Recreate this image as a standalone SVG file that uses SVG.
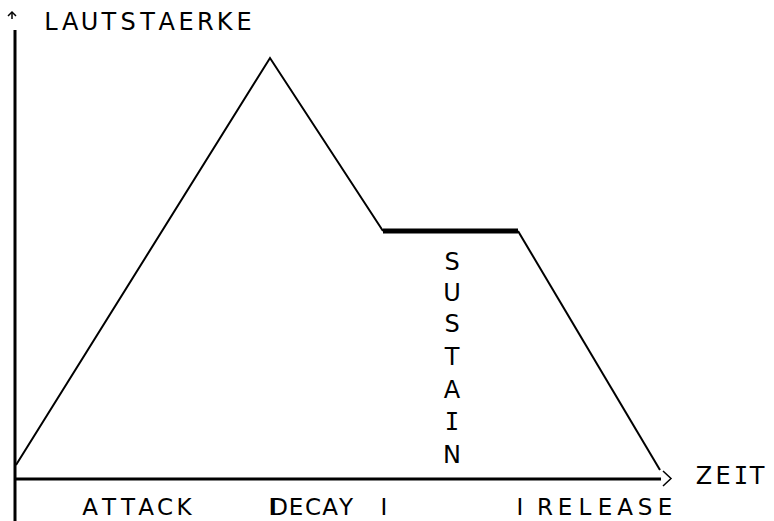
<svg xmlns="http://www.w3.org/2000/svg" width="774" height="521" viewBox="0 0 774 521">
<style>
.t{font-family:"DejaVu Sans","Liberation Sans",sans-serif;font-size:24px;fill:#000;text-anchor:middle}
.b{font-size:23px}
.m{font-family:"DejaVu Sans Mono","Liberation Mono",monospace}
.ax{stroke:#000;stroke-width:3;fill:none}
.ln{stroke:#000;stroke-width:2;fill:none}
.th{stroke:#000;stroke-width:1.5;fill:none}
</style>
<rect width="774" height="521" fill="#fff"/>
<g id="connectors">
<line class="ax" x1="15" y1="30" x2="15" y2="521"/>
<line class="ax" x1="15" y1="479" x2="661" y2="479"/>
<polyline class="th" points="8,16 12,12 16,16"/>
<line class="th" x1="12" y1="12" x2="12" y2="19"/>
<polyline class="th" points="663,471 671,478.5 663,486"/>
</g>
<g id="envelope">
<polyline class="ln" points="16,465 270,58 383,231"/>
<line x1="383" y1="231" x2="518" y2="231" stroke="#000" stroke-width="5"/>
<polyline class="ln" points="518,231 660,470"/>
</g>
<g id="labels">
<text class="t" x="51 70.3 89.6 108.9 128.2 147.5 166.8 186.1 205.4 224.7 244" y="30">LAUTSTAERKE</text>
<text class="t" x="704 723 741 757" y="484">ZE<tspan class="m">I</tspan>T</text>
<text class="t b" x="90 109 128 146 165 184" y="515">ATTACK</text>
<text class="t b" x="272 279 296 313 330 346 365 384" y="515">IDECAY I</text>
<text class="t b" x="520 532 545 565 585 605 625 645 665" y="515">I RELEASE</text>
</g>
<g id="sustain">
<text class="t" x="452" y="270">S</text>
<text class="t" x="452" y="301">U</text>
<text class="t" x="452" y="332">S</text>
<text class="t" x="452" y="365">T</text>
<text class="t" x="452" y="398">A</text>
<text class="t m" x="452" y="430">I</text>
<text class="t" x="452" y="463">N</text>
</g>
</svg>
